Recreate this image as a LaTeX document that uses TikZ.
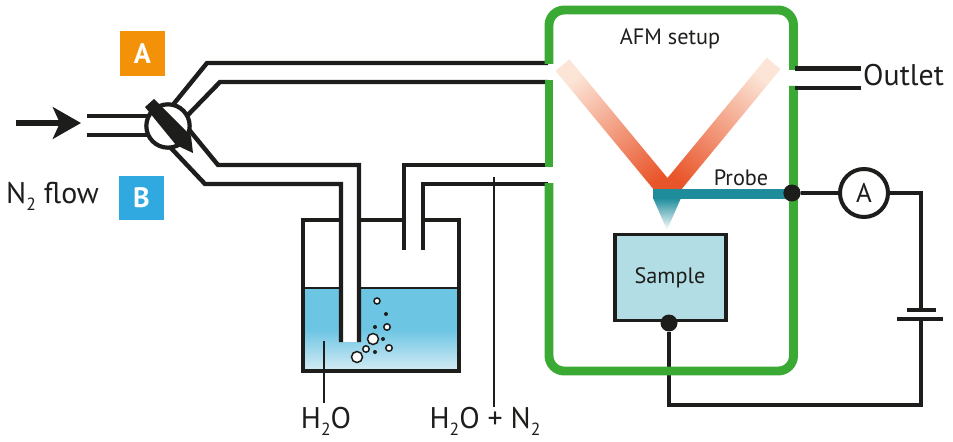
\documentclass[tikz,border=0pt]{standalone}
\usepackage{xcolor}
\usepackage{fontspec}
\setmainfont{PT Sans}
\usetikzlibrary{positioning,calc,arrows.meta}
\definecolor{framegreen}{HTML}{3AAA35}
\definecolor{inkblack}{HTML}{1D1D1B}
\definecolor{badgeorange}{HTML}{F39208}
\definecolor{badgeblue}{HTML}{2FA9E0}
\definecolor{waterblue}{HTML}{6CC5E3}
\definecolor{waterpale}{HTML}{D0EAF4}
\definecolor{beamred}{HTML}{E9552A}
\definecolor{beamfade}{HTML}{FCE4D6}
\definecolor{probeteal}{HTML}{1F8C9C}
\definecolor{samplefill}{HTML}{B3DDE4}
\newcommand{\lowtwo}{\raisebox{-0.25em}{\fontsize{15}{16}\selectfont 2}}
\tikzset{
    pipe/.style={draw=inkblack, line width=3.8pt, line join=miter},
    wire/.style={draw=inkblack, line width=3.2pt},
    leader/.style={draw=inkblack, line width=2.4pt},
    greenframe/.style={draw=framegreen, line width=7.6pt, rounded corners=13pt},
    junction/.style={circle, fill=inkblack, minimum size=14.5pt, inner sep=0pt},
    badge/.style={minimum size=38pt, inner sep=0pt, text=white, font=\fontsize{24}{26}\selectfont\bfseries},
    biglabel/.style={text=inkblack, inner sep=0pt, anchor=base, font=\fontsize{25.5}{28}\selectfont},
    smalllabel/.style={text=inkblack, inner sep=0pt, anchor=base, font=\fontsize{19}{21}\selectfont},
    bubble/.style={draw=inkblack, line width=1.3pt, fill=white},
}
\begin{document}
\begin{tikzpicture}[x=0.3mm, y=-0.3mm]
    \useasboundingbox (0,0) rectangle (953,442);

    % Water
    \fill[waterblue] (305,288) rectangle (457,330);
    \shade[top color=waterblue, bottom color=waterpale] (305,329.5) rectangle (457,369);
    \fill[white] (341,286) rectangle (359,342);
    \draw[inkblack, line width=2pt] (305,288) -- (341,288) (359,288) -- (457,288);

    % Vessel
    \draw[pipe] (341,220) -- (303,220) -- (303,371) -- (459,371) -- (459,220) -- (423,220);
    \draw[pipe] (359,220) -- (404,220);

    % Pipes to the vessel and to the setup
    \draw[pipe] (172,106) -- (207,63) -- (548,63);
    \draw[pipe] (185,118) -- (220,82) -- (548,82);
    \draw[pipe] (186,126) -- (218,165) -- (359,165) -- (359,342);
    \draw[pipe] (170,147) -- (205,184) -- (341,184) -- (341,342);
    \draw[pipe] (404,250) -- (404,165) -- (548,165);
    \draw[pipe] (423,250) -- (423,184) -- (548,184);
    \draw[pipe] (87,116) -- (155,116);
    \draw[pipe] (87,135) -- (155,135);

    % Valve
    \node[circle, draw=inkblack, line width=3.6pt, fill=white, minimum size=37pt, inner sep=0pt] (valve) at (168,126) {};
    \fill[inkblack] (145,107) -- (154,99) -- (191,136) -- (193,153) -- (176,145) -- cycle;

    % Inlet arrow
    \coordinate (flowstart) at (16,123);
    \coordinate (flowend) at (81,123);
    \draw[inkblack, line width=5.6pt, -{Stealth[length=24pt, width=27pt, inset=6pt]}] (flowstart) -- (flowend);

    % Badges
    \node[badge, fill=badgeorange] (badgeA) at (142.5,53.5) {A};
    \node[badge, fill=badgeblue] (badgeB) at (141.5,198) {B};
    \node[biglabel, anchor=base west] (flowlabel) at (6,203) {N\lowtwo{} flow};

    % Bubbles
    \foreach \x/\y/\r in {357/357/5.5, 373/339/5.5, 366/349/3.2, 389/348/3.2, 387/327/3.2, 377/301/3}
        \draw[bubble] (\x,\y) circle (\r);
    \foreach \x/\y in {386/314, 375/327, 383/339, 375/352}
        \fill[inkblack] (\x,\y) circle (2);

    % Beams
    \begin{scope}
        \clip (540,40) rectangle (800,189);
        \shade[shift={(660,183)}, rotate=129.6, top color=beamfade, bottom color=beamred, shading angle=39.6] (-14,-9) rectangle (153,9);
        \shade[shift={(675,183)}, rotate=50.5, top color=beamfade, bottom color=beamred, shading angle=-39.5] (-14,-9) rectangle (155,9);
    \end{scope}

    % Probe
    \shade[top color=probeteal, bottom color=white] (653,198) -- (681,198) -- (667,230) -- cycle;
    \fill[probeteal] (653,189) rectangle (790,199);
    \node[smalllabel] (probelabel) at (741,185) {Probe};
    \node[smalllabel] (afmlabel) at (670,45) {AFM setup};

    % Sample
    \node[draw=inkblack, line width=3pt, fill=samplefill, minimum width=95pt, minimum height=73.5pt, inner sep=0pt] (sample) at (670.5,277.5) {};
    \node[smalllabel] (samplelabel) at (670,283) {Sample};

    % Circuit
    \node[circle, draw=inkblack, line width=3.4pt, fill=white, minimum size=41pt, inner sep=0pt, text=inkblack, font=\fontsize{23}{25}\selectfont] (ammeter) at (864,193) {A};
    \node[junction] (probedot) at (792,193) {};
    \node[junction] (sampledot) at (669,323) {};
    \coordinate (batterytop) at (921,310);
    \coordinate (batterybottom) at (921,319);
    \draw[wire] (ammeter) -| (batterytop);
    \draw[wire] (batterybottom) |- (669,405) -- (sampledot);
    \draw[pipe] (907,310) -- (936,310);
    \draw[pipe] (897,319) -- (943,319);

    % Frame
    \draw[greenframe] (549,80) -- (549,167);
    \draw[greenframe] (549,183) -- (549,371) -- (793.5,371) -- (793.5,86);
    \draw[greenframe] (793.5,70) -- (793.5,10) -- (549,10) -- (549,64);
    \node[junction] at (probedot) {};
    \draw[wire] (probedot) -- (ammeter);

    % Outlet
    \draw[pipe] (795,68.5) -- (861,68.5);
    \draw[pipe] (795,88) -- (861,88);
    \node[biglabel, anchor=base west] (outletlabel) at (863,86) {Outlet};

    % Labels
    \node[biglabel] (waterlabel) at (326,428) {H\lowtwo{}O};
    \node[biglabel] (mixlabel) at (485,428) {H\lowtwo{}O + N\lowtwo};
    \draw[leader] (324,341) -- (324,403);
    \draw[leader] (494,177) -- (494,407);
\end{tikzpicture}
\end{document}
